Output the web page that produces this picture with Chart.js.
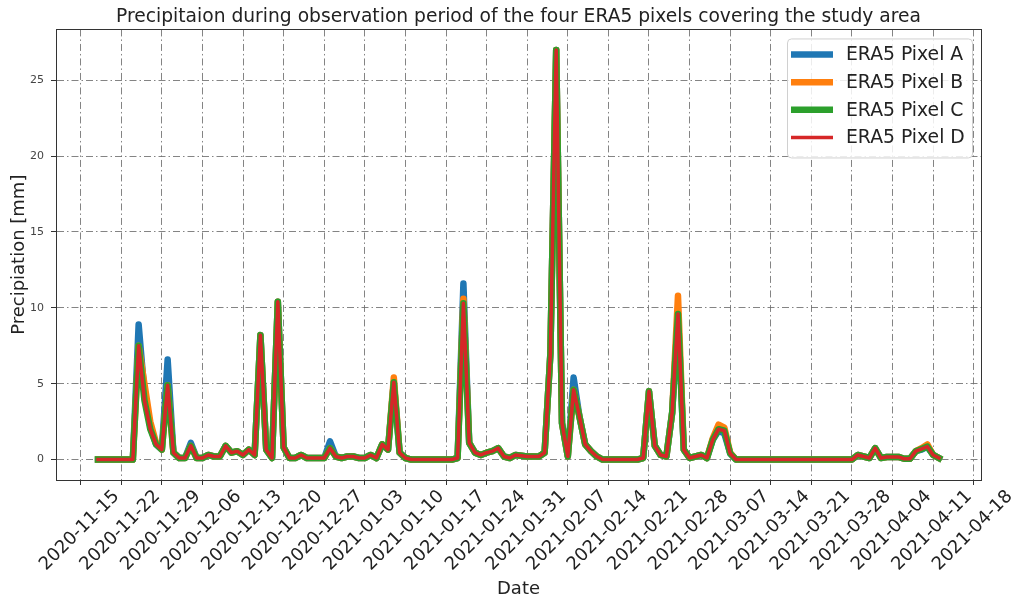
<!DOCTYPE html>
<html>
<head>
<meta charset="utf-8">
<script src="https://cdn.jsdelivr.net/npm/chart.js@4.4.0/dist/chart.umd.min.js"></script>
<style>
  body { margin: 0; background: #fff; }
  #wrap { width: 1017px; height: 603px; }
</style>
</head>
<body>
<div id="wrap"><canvas id="precipChart" width="1017" height="603"></canvas></div>
<script>
// daily values, first one is 2020-11-18
const firstDay = '2020-11-18';
const tickDates = ['2020-11-15', '2020-11-22', '2020-11-29', '2020-12-06', '2020-12-13', '2020-12-20',
  '2020-12-27', '2021-01-03', '2021-01-10', '2021-01-17', '2021-01-24', '2021-01-31', '2021-02-07',
  '2021-02-14', '2021-02-21', '2021-02-28', '2021-03-07', '2021-03-14', '2021-03-21', '2021-03-28',
  '2021-04-04', '2021-04-11', '2021-04-18'];
const yTicks = [0, 5, 10, 15, 20, 25];

const pixelA = [0, 0, 0, 0, 0, 0, 0,
  8.9, 4.4, 2.2, 1.0, 0.65, 6.6, 0.45, 0.1, 0.1, 1.1,
  0.1, 0.1, 0.3, 0.2, 0.2, 0.9, 0.45, 0.55, 0.3, 0.65,
  0.3, 8.2, 0.65, 0.1, 10.4, 0.8, 0.1, 0.1, 0.3, 0.1,
  0.1, 0.1, 0.1, 1.2, 0.2, 0.1, 0.2, 0.2, 0.1, 0.1,
  0.3, 0.1, 1.0, 0.65, 5.1, 0.45, 0.1, 0, 0, 0,
  0, 0, 0, 0, 0, 0.1, 11.6, 1.1, 0.45, 0.3,
  0.45, 0.55, 0.75, 0.2, 0.1, 0.3, 0.25, 0.2, 0.2, 0.2,
  0.45, 7.0, 27.0, 2.4, 0.2, 5.4, 2.85, 1.0, 0.55, 0.2,
  0, 0, 0, 0, 0, 0, 0, 0.1, 4.5, 0.9,
  0.3, 0.2, 3.1, 9.6, 0.65, 0.1, 0.2, 0.3, 0.1, 1.3,
  1.9, 1.7, 0.4, 0, 0, 0, 0, 0, 0, 0,
  0, 0, 0, 0, 0, 0, 0, 0, 0, 0,
  0, 0, 0, 0, 0.3, 0.2, 0.1, 0.75, 0.1, 0.17,
  0.17, 0.17, 0.05, 0.05, 0.55, 0.65, 0.85, 0.3, 0.1];

const pixelB = [0, 0, 0, 0, 0, 0, 0,
  7.5, 5.0, 2.5, 1.1, 0.65, 4.9, 0.45, 0.1, 0.1, 0.9,
  0.1, 0.1, 0.3, 0.2, 0.2, 0.9, 0.45, 0.55, 0.3, 0.65,
  0.3, 8.2, 0.65, 0.1, 10.4, 0.8, 0.1, 0.1, 0.3, 0.1,
  0.1, 0.1, 0.1, 0.75, 0.2, 0.1, 0.2, 0.2, 0.1, 0.1,
  0.3, 0.1, 1.0, 0.65, 5.4, 0.45, 0.1, 0, 0, 0,
  0, 0, 0, 0, 0, 0.1, 10.6, 1.1, 0.45, 0.3,
  0.45, 0.55, 0.75, 0.2, 0.1, 0.3, 0.25, 0.2, 0.2, 0.2,
  0.45, 7.0, 27.0, 2.4, 0.2, 4.6, 2.85, 1.0, 0.55, 0.2,
  0, 0, 0, 0, 0, 0, 0, 0.1, 4.5, 0.9,
  0.3, 0.2, 3.1, 10.8, 0.65, 0.1, 0.2, 0.3, 0.1, 1.4,
  2.3, 2.1, 0.45, 0, 0, 0, 0, 0, 0, 0,
  0, 0, 0, 0, 0, 0, 0, 0, 0, 0,
  0, 0, 0, 0, 0.3, 0.2, 0.1, 0.75, 0.1, 0.17,
  0.17, 0.17, 0.05, 0.05, 0.55, 0.75, 1.0, 0.3, 0.1];

const pixelC = [0, 0, 0, 0, 0, 0, 0,
  7.5, 3.9, 2.0, 1.0, 0.65, 4.9, 0.45, 0.1, 0.1, 0.9,
  0.1, 0.1, 0.3, 0.2, 0.2, 0.9, 0.45, 0.55, 0.3, 0.65,
  0.3, 8.2, 0.65, 0.1, 10.4, 0.8, 0.1, 0.1, 0.3, 0.1,
  0.1, 0.1, 0.1, 0.75, 0.2, 0.1, 0.2, 0.2, 0.1, 0.1,
  0.3, 0.1, 1.0, 0.65, 5.1, 0.45, 0.1, 0, 0, 0,
  0, 0, 0, 0, 0, 0.1, 10.3, 1.1, 0.45, 0.3,
  0.45, 0.55, 0.75, 0.2, 0.1, 0.3, 0.25, 0.2, 0.2, 0.2,
  0.45, 7.0, 27.0, 2.4, 0.2, 4.6, 2.85, 1.0, 0.55, 0.2,
  0, 0, 0, 0, 0, 0, 0, 0.1, 4.5, 0.9,
  0.3, 0.2, 3.1, 9.6, 0.65, 0.1, 0.2, 0.3, 0.1, 1.3,
  2.0, 1.9, 0.4, 0, 0, 0, 0, 0, 0, 0,
  0, 0, 0, 0, 0, 0, 0, 0, 0, 0,
  0, 0, 0, 0, 0.3, 0.2, 0.1, 0.75, 0.1, 0.17,
  0.17, 0.17, 0.05, 0.05, 0.55, 0.7, 0.85, 0.3, 0.1];

const pixelD = [0, 0, 0, 0, 0, 0, 0,
  7.5, 3.9, 2.0, 1.0, 0.65, 4.9, 0.45, 0.1, 0.1, 0.9,
  0.1, 0.1, 0.3, 0.2, 0.2, 0.9, 0.45, 0.55, 0.3, 0.65,
  0.3, 8.2, 0.65, 0.1, 10.4, 0.8, 0.1, 0.1, 0.3, 0.1,
  0.1, 0.1, 0.1, 0.75, 0.2, 0.1, 0.2, 0.2, 0.1, 0.1,
  0.3, 0.1, 1.0, 0.65, 5.1, 0.45, 0.1, 0, 0, 0,
  0, 0, 0, 0, 0, 0.1, 10.3, 1.1, 0.45, 0.3,
  0.45, 0.55, 0.75, 0.2, 0.1, 0.3, 0.25, 0.2, 0.2, 0.2,
  0.45, 7.0, 27.0, 2.4, 0.2, 4.6, 2.85, 1.0, 0.55, 0.2,
  0, 0, 0, 0, 0, 0, 0, 0.1, 4.5, 0.9,
  0.3, 0.2, 3.1, 9.6, 0.65, 0.1, 0.2, 0.3, 0.1, 1.3,
  2.0, 1.9, 0.4, 0, 0, 0, 0, 0, 0, 0,
  0, 0, 0, 0, 0, 0, 0, 0, 0, 0,
  0, 0, 0, 0, 0.3, 0.2, 0.1, 0.75, 0.1, 0.17,
  0.17, 0.17, 0.05, 0.05, 0.55, 0.7, 0.85, 0.3, 0.1];

const DAY = 86400000;
const origin = Date.parse(tickDates[0]);
function dayNum(s) { return (Date.parse(s) - origin) / DAY; }
const start = dayNum(firstDay);
function toPoints(vals) { return vals.map((v, i) => ({ x: start + i, y: v })); }

const xTickValues = tickDates.map(dayNum);
const gridColor = 'rgba(110,110,110,0.85)';
const dashDot = [7, 3, 1.5, 3];

Chart.defaults.font.family = 'DejaVu Sans';
Chart.defaults.color = '#222';

// matplotlib-like box around the plot area
const frameBox = {
  id: 'frameBox',
  afterDatasetsDraw(chart) {
    const a = chart.chartArea, c = chart.ctx;
    c.save();
    c.strokeStyle = '#333';
    c.lineWidth = 1;
    c.strokeRect(Math.round(a.left) + 0.5, Math.round(a.top) + 0.5,
      Math.round(a.right - a.left), Math.round(a.bottom - a.top));
    c.restore();
  }
};

// legend inside the upper right corner
const cornerLegend = {
  id: 'cornerLegend',
  afterDraw(chart) {
    const a = chart.chartArea, c = chart.ctx;
    const sets = chart.data.datasets;
    const w = 185, h = 119;
    const x0 = a.right - 9 - w, y0 = a.top + 9;
    c.save();
    c.beginPath();
    c.roundRect(x0 + 0.5, y0 + 0.5, w, h, 4);
    c.fillStyle = 'rgba(255,255,255,0.85)';
    c.fill();
    c.strokeStyle = '#d0d0d0';
    c.lineWidth = 1;
    c.stroke();
    c.font = '18.8px "DejaVu Sans"';
    c.textBaseline = 'middle';
    sets.forEach((ds, i) => {
      const y = y0 + 16 + i * 27.7;
      c.beginPath();
      c.moveTo(x0 + 4, y);
      c.lineTo(x0 + 46, y);
      c.strokeStyle = ds.borderColor;
      c.lineWidth = ds.borderWidth;
      c.lineCap = 'butt';
      c.stroke();
      c.fillStyle = '#222';
      c.fillText(ds.label, x0 + 59, y + 1);
    });
    c.restore();
  }
};

function lineSet(label, vals, color, width, order) {
  return {
    label: label,
    data: toPoints(vals),
    borderColor: color,
    backgroundColor: color,
    borderWidth: width,
    pointRadius: 0,
    tension: 0,
    borderJoinStyle: 'round',
    borderCapStyle: 'square',
    order: order
  };
}

const ctx = document.getElementById('precipChart');

new Chart(ctx, {
  type: 'line',
  data: {
    datasets: [
      lineSet('ERA5 Pixel A', pixelA, '#1f77b4', 6.5, 4),
      lineSet('ERA5 Pixel B', pixelB, '#ff7f0e', 6.5, 3),
      lineSet('ERA5 Pixel C', pixelC, '#2ca02c', 6.5, 2),
      lineSet('ERA5 Pixel D', pixelD, '#d62728', 3.5, 1)
    ]
  },
  options: {
    responsive: false,
    animation: false,
    layout: { padding: { left: 0, right: 36, top: 0, bottom: 0 } },
    plugins: {
      legend: { display: false },
      tooltip: { enabled: false },
      title: {
        display: true,
        fullSize: false,
        text: 'Precipitaion during observation period of the four ERA5 pixels covering the study area',
        font: { size: 18.7, weight: 'normal' },
        color: '#222',
        padding: { top: 6, bottom: 1 }
      }
    },
    scales: {
      x: {
        type: 'linear',
        min: -4.25,
        max: 155.25,
        afterBuildTicks: axis => { axis.ticks = xTickValues.map(v => ({ value: v })); },
        afterFit: scale => { scale.height = 123; scale.paddingLeft = 0; scale.paddingRight = 0; },
        ticks: {
          autoSkip: false,
          minRotation: 45,
          maxRotation: 45,
          labelOffset: 36,
          padding: 1,
          font: { size: 18 },
          color: '#222',
          callback: v => tickDates[xTickValues.indexOf(v)]
        },
        grid: {
          color: gridColor,
          lineWidth: 1,
          drawTicks: true,
          tickLength: 5,
          tickColor: '#333',
          tickBorderDash: []
        },
        border: { display: true, color: '#333', width: 1, dash: dashDot },
        title: {
          display: true,
          text: 'Date',
          font: { size: 18 },
          color: '#222',
          padding: { top: 0, bottom: 3 }
        }
      },
      y: {
        min: -1.35,
        max: 28.35,
        afterBuildTicks: axis => { axis.ticks = yTicks.map(v => ({ value: v })); },
        afterFit: scale => { scale.width = 56; },
        ticks: {
          padding: 7,
          font: { size: 11 },
          color: '#444'
        },
        grid: {
          color: gridColor,
          lineWidth: 1,
          drawTicks: true,
          tickLength: 5,
          tickColor: '#333',
          tickBorderDash: []
        },
        border: { display: true, color: '#333', width: 1, dash: dashDot },
        title: {
          display: true,
          text: 'Precipiation [mm]',
          font: { size: 18 },
          color: '#222',
          padding: { top: 9, bottom: 0 }
        }
      }
    }
  },
  plugins: [frameBox, cornerLegend]
});
</script>
</body>
</html>
